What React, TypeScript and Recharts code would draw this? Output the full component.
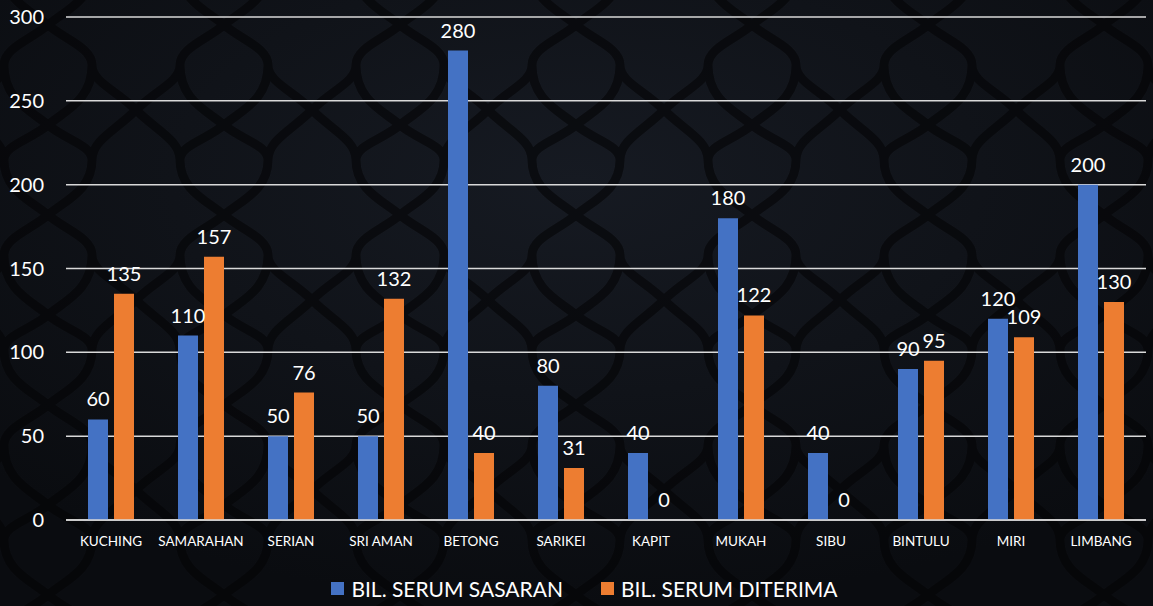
import { Bar, BarChart, CartesianGrid, LabelList, Legend, XAxis, YAxis } from "recharts"

const districts = [
  "KUCHING",
  "SAMARAHAN",
  "SERIAN",
  "SRI AMAN",
  "BETONG",
  "SARIKEI",
  "KAPIT",
  "MUKAH",
  "SIBU",
  "BINTULU",
  "MIRI",
  "LIMBANG",
]
const sasaran = [60, 110, 50, 50, 280, 80, 40, 180, 40, 90, 120, 200]
const diterima = [135, 157, 76, 132, 40, 31, 0, 122, 0, 95, 109, 130]
const yTicks = [0, 50, 100, 150, 200, 250, 300]

const data = districts.map((name, i) => ({
  name,
  sasaran: sasaran[i],
  diterima: diterima[i],
}))

const FONT = "Lato, 'Open Sans', sans-serif"

// value label drawn by hand so zero-height bars still get their "0"
const valueLabel = (props: any) => {
  const { x, y, width, value } = props
  return (
    <text
      x={Number(x) + Number(width) / 2}
      y={Number(y) - 13}
      textAnchor="middle"
      fill="#ffffff"
      fontSize={20}
      fontFamily={FONT}
    >
      {value}
    </text>
  )
}

function LegendBox() {
  const items = [
    { label: "BIL. SERUM SASARAN", color: "#4472C4" },
    { label: "BIL. SERUM DITERIMA", color: "#ED7D31" },
  ]
  return (
    <div
      style={{
        display: "flex",
        justifyContent: "center",
        gap: 38,
        paddingTop: 6,
        paddingLeft: 23,
        fontFamily: FONT,
      }}
    >
      {items.map((it) => (
        <div key={it.label} style={{ display: "flex", alignItems: "center", gap: 7 }}>
          <span style={{ width: 13, height: 13, background: it.color, display: "inline-block" }} />
          <span style={{ color: "#ffffff", fontSize: 21 }}>{it.label}</span>
        </div>
      ))}
    </div>
  )
}

function Backdrop() {
  return (
    <svg width={1153} height={606} style={{ position: "absolute", left: 0, top: 0 }}>
      <defs>
        <radialGradient id="bgGlow" cx="50%" cy="30%" r="70%">
          <stop offset="0%" stopColor="#161a22" />
          <stop offset="100%" stopColor="#0a0c10" />
        </radialGradient>
        <pattern id="trellis" width={176} height={190} patternUnits="userSpaceOnUse" x={-40} y={-30}>
          <path
            d="M44 0 C44 30 70 40 88 55 C106 40 132 30 132 0 M88 55 C70 70 44 78 44 95 C44 112 20 120 0 140 M88 55 C106 70 132 78 132 95 C132 112 156 120 176 140 M44 95 C44 130 70 140 88 155 C106 140 132 130 132 95 M88 155 C70 170 44 175 44 190 M88 155 C106 170 132 175 132 190 M0 140 C20 160 44 170 44 190 M176 140 C156 160 132 170 132 190"
            fill="none"
            stroke="#030405"
            strokeWidth={9}
            opacity={0.6}
          />
        </pattern>
      </defs>
      <rect width={1153} height={606} fill="url(#bgGlow)" />
      <rect width={1153} height={606} fill="url(#trellis)" />
    </svg>
  )
}

export default function App() {
  return (
    <div style={{ position: "relative", width: 1153, height: 606, overflow: "hidden", background: "#0b0e13" }}>
      <style>{`body{margin:0}`}</style>
      <Backdrop />
      <div style={{ position: "absolute", left: 0, top: 0 }}>
        <BarChart
          width={1153}
          height={606}
          data={data}
          margin={{ top: 17, right: 7, bottom: 0, left: 0 }}
          barGap={6}
          barCategoryGap={22}
        >
          <CartesianGrid vertical={false} stroke="#d9d9d9" strokeWidth={1.5} />
          <XAxis
            dataKey="name"
            interval={0}
            tickLine={false}
            axisLine={{ stroke: "#d9d9d9", strokeWidth: 1.5 }}
            tickSize={0}
            tickMargin={16}
            height={50}
            tick={{ fill: "#ffffff", fontSize: 13.5, fontFamily: FONT }}
          />
          <YAxis
            domain={[0, 300]}
            ticks={yTicks}
            width={66}
            tickLine={false}
            axisLine={false}
            tickSize={0}
            tickMargin={22}
            tick={{ fill: "#ffffff", fontSize: 20, fontFamily: FONT }}
          />
          <Legend verticalAlign="bottom" height={36} content={() => <LegendBox />} />
          <Bar dataKey="sasaran" name="BIL. SERUM SASARAN" fill="#4472C4" barSize={20} isAnimationActive={false}>
            <LabelList dataKey="sasaran" content={valueLabel} />
          </Bar>
          <Bar
            dataKey="diterima"
            name="BIL. SERUM DITERIMA"
            fill="#ED7D31"
            barSize={20}
            minPointSize={0.01}
            isAnimationActive={false}
          >
            <LabelList dataKey="diterima" content={valueLabel} />
          </Bar>
        </BarChart>
      </div>
    </div>
  )
}
